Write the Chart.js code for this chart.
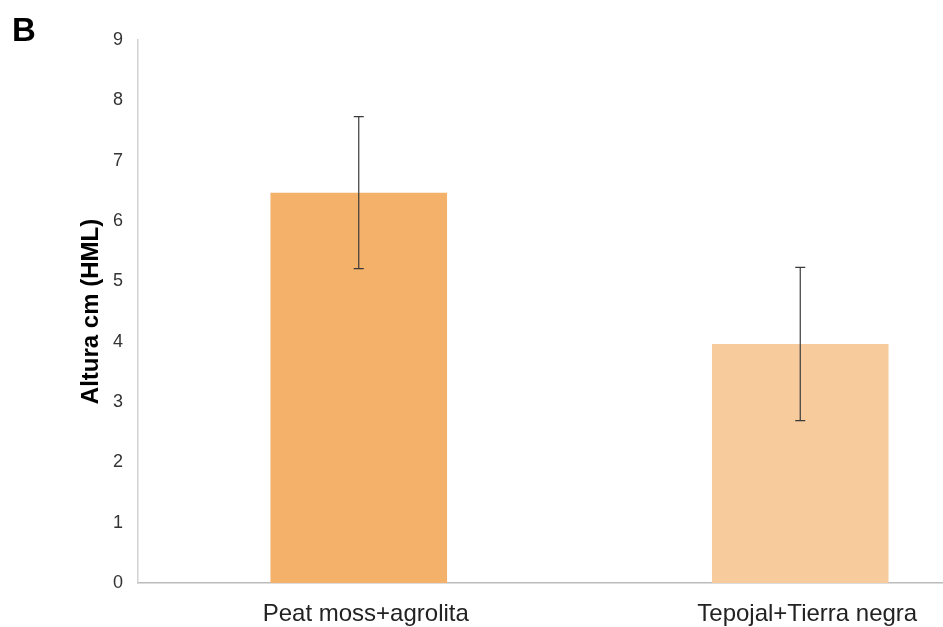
<!DOCTYPE html>
<html>
<head>
<meta charset="utf-8">
<script src="https://cdn.jsdelivr.net/npm/chart.js@4"></script>
<style>
  html, body { margin: 0; padding: 0; background: #ffffff; overflow: hidden; }
  body { width: 943px; height: 627px; }
  canvas { display: block; }
</style>
</head>
<body>
<canvas id="chart" width="1021" height="627"></canvas>
<script>
// Substrate treatments and mean plant height (cm) with standard deviation
const categories = ['Peat moss+agrolita', 'Tepojal+Tierra negra'];
const meanHeight = [6.47, 3.96];
const stdDev = [1.26, 1.27];
const yTicks = [0, 1, 2, 3, 4, 5, 6, 7, 8, 9];

const barColors = ['#F4B169', '#F8CB9C'];
const FONT = '"Liberation Sans", Arial, sans-serif';

// Error bars (mean ± SD) drawn after the bars
const errorBars = {
  id: 'errorBars',
  afterDatasetsDraw(chart) {
    const { ctx } = chart;
    const y = chart.scales.y;
    const meta = chart.getDatasetMeta(0);
    ctx.save();
    ctx.strokeStyle = '#3a3a3a';
    ctx.lineWidth = 1.2;
    meta.data.forEach((bar, i) => {
      const x = bar.x;
      const top = y.getPixelForValue(meanHeight[i] + stdDev[i]);
      const bot = y.getPixelForValue(meanHeight[i] - stdDev[i]);
      ctx.beginPath();
      ctx.moveTo(x, top); ctx.lineTo(x, bot);
      ctx.moveTo(x - 5, top); ctx.lineTo(x + 5, top);
      ctx.moveTo(x - 5, bot); ctx.lineTo(x + 5, bot);
      ctx.stroke();
    });
    ctx.restore();
  }
};

// Panel letter
const panelLetter = {
  id: 'panelLetter',
  afterDraw(chart) {
    const { ctx } = chart;
    ctx.save();
    ctx.fillStyle = '#000000';
    ctx.font = 'bold 33px ' + FONT;
    ctx.textAlign = 'left';
    ctx.textBaseline = 'alphabetic';
    ctx.fillText('B', 12, 41);
    ctx.restore();
  }
};

new Chart(document.getElementById('chart'), {
  type: 'bar',
  data: {
    labels: categories,
    datasets: [{
      data: meanHeight,
      backgroundColor: barColors,
      borderWidth: 0,
      barPercentage: 0.4,
      categoryPercentage: 1.0
    }]
  },
  options: {
    responsive: false,
    animation: false,
    layout: { padding: { top: 40, right: 0, left: 0, bottom: 0 } },
    plugins: {
      legend: { display: false },
      tooltip: { enabled: false }
    },
    scales: {
      x: {
        grid: { display: false, drawTicks: false },
        border: { display: true, color: '#BBBBBB', width: 1.5 },
        ticks: {
          color: '#222222',
          font: { family: FONT, size: 24 },
          padding: 17,
          labelOffset: 7,
          maxRotation: 0
        },
        afterFit(scale) { scale.height = 44; }
      },
      y: {
        min: 0,
        max: 9,
        afterBuildTicks(scale) { scale.ticks = yTicks.map(v => ({ value: v })); },
        grid: { display: false, drawTicks: false },
        border: { display: true, color: '#D2D2D2', width: 1.5 },
        ticks: {
          color: '#333333',
          font: { family: FONT, size: 18 },
          padding: 15
        },
        title: {
          display: true,
          text: 'Altura cm (HML)',
          color: '#000000',
          font: { family: FONT, size: 24, weight: 'bold' },
          padding: { top: 77, bottom: 0 }
        },
        afterFit(scale) { scale.width = 138; }
      }
    }
  },
  plugins: [errorBars, panelLetter]
});
</script>
</body>
</html>
